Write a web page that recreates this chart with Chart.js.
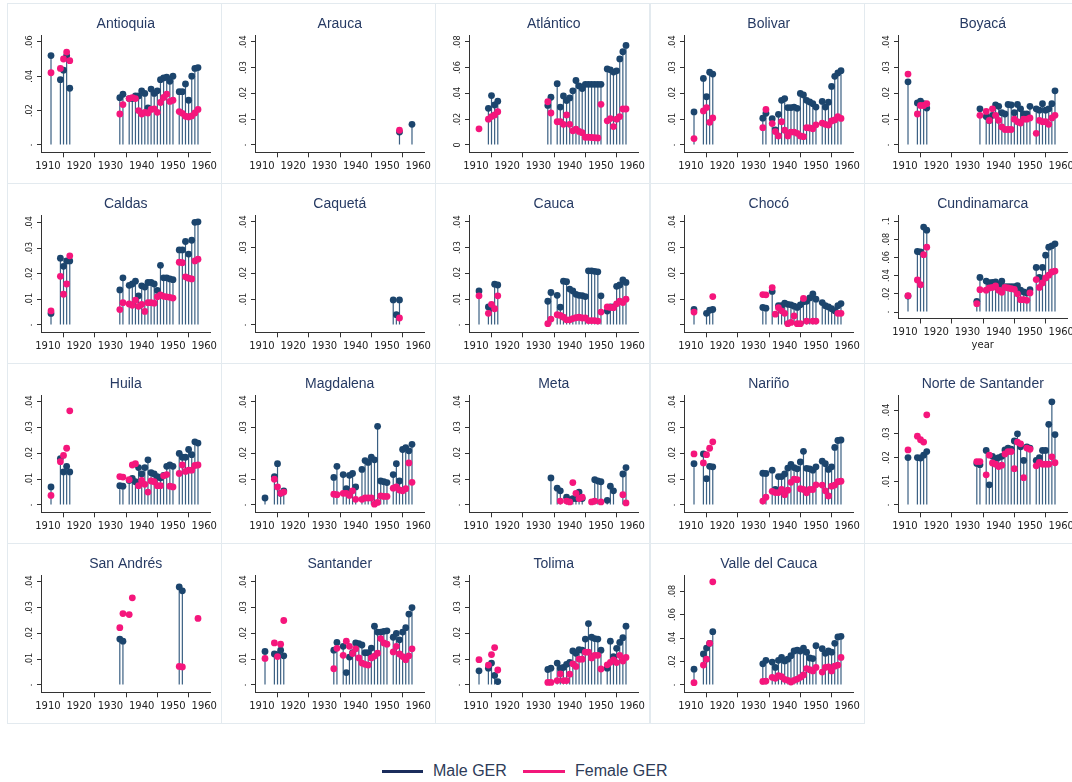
<!DOCTYPE html>
<html>
<head>
<meta charset="utf-8">
<title>GER by department</title>
<script src="https://cdn.jsdelivr.net/npm/chart.js@4.4.1/dist/chart.umd.min.js"></script>
<style>
  html, body { margin: 0; padding: 0; background: #fff; width: 1072px; height: 782px; overflow: hidden; }
  .panel { position: absolute; box-sizing: border-box; border: 1px solid #e3eaef; width: 215px; height: 181px; }
  canvas.plot { position: absolute; }
  .key { position: absolute; top: 760px; font: 16px "Liberation Sans", Arial, sans-serif; color: #2d3b58; line-height: 22px; }
  .key-line { position: absolute; top: 770px; height: 3px; }
</style>
</head>
<body>
<div id="grid"></div>
<div class="key-line" style="left:382px;width:41px;background:#1b2d5c"></div>
<div class="key" style="left:433px">Male GER</div>
<div class="key-line" style="left:523px;width:42px;background:#f2177a"></div>
<div class="key" style="left:575px">Female GER</div>

<script>
// survey years shared by every department (1935 and 1951 missing)
const years = [1911, 1914, 1915, 1916, 1917,
  1933, 1934,
  1936, 1937, 1938, 1939, 1940, 1941, 1942, 1943, 1944, 1945, 1946, 1947, 1948, 1949, 1950,
  1952, 1953, 1954, 1955, 1956, 1957, 1958];
const xTicks = [1910, 1920, 1930, 1940, 1950, 1960];

const ticksSmall = [0, 0.01, 0.02, 0.03, 0.04];
const labelsSmall = ['.', '.01', '.02', '.03', '.04'];
const labelsChoco = ['', '.01', '.02', '.03', '.04'];
const ticksMid = [0, 0.02, 0.04, 0.06];
const labelsMid = ['.', '.02', '.04', '.06'];
const ticksWide = [0, 0.02, 0.04, 0.06, 0.08];
const labelsWide = ['.', '.02', '.04', '.06', '.08'];
const labelsWideZero = ['0', '.02', '.04', '.06', '.08'];
const ticksTop = [0, 0.02, 0.04, 0.06, 0.08, 0.1];
const labelsTop = ['.', '.02', '.04', '.06', '.08', '.1'];

const antioquiaMale = [0.052, 0.038, 0.0435, 0.052, 0.033,
  0.0275, 0.0295,
  0.027, 0.027, 0.0285, 0.0285, 0.0315, 0.030, 0.0215, 0.0325, 0.030, 0.0315, 0.038, 0.039, 0.0395, 0.037, 0.040,
  0.031, 0.031, 0.0355, 0.026, 0.040, 0.0445, 0.045];
const antioquiaFemale = [0.042, 0.0445, 0.050, 0.054, 0.049,
  0.018, 0.0235,
  0.027, 0.0275, 0.027, 0.020, 0.018, 0.019, 0.0186, 0.0207, 0.021, 0.019, 0.0247, 0.0276, 0.0295, 0.0253, 0.026,
  0.0194, 0.0184, 0.0167, 0.0163, 0.0169, 0.0186, 0.0207];

const araucaMale = [null, null, null, null, null,
  null, null,
  null, null, null, null, null, null, null, null, null, null, null, null, null, null, null,
  null, null, 0.005, null, null, null, 0.008];
const araucaFemale = [null, null, null, null, null,
  null, null,
  null, null, null, null, null, null, null, null, null, null, null, null, null, null, null,
  null, null, 0.0057, null, null, null, null];

const atlanticoMale = [null, 0.0284, 0.0383, 0.031, 0.034,
  0.0307, 0.037,
  0.0475, 0.0294, 0.038, 0.0345, 0.0365, 0.042, 0.050, 0.0458, 0.0437, 0.047, 0.047, 0.047, 0.047, 0.047, 0.047,
  0.059, 0.0583, 0.0565, 0.0575, 0.0667, 0.0723, 0.0772];
const atlanticoFemale = [0.0125, 0.020, 0.022, 0.0233, 0.0258,
  0.0335, 0.0248,
  0.018, 0.018, 0.016, 0.0233, 0.016, 0.011, 0.0123, 0.0105, 0.0095, 0.006, 0.006, 0.0058, 0.0056, 0.0054, 0.0315,
  0.0187, 0.0205, 0.0143, 0.020, 0.022, 0.0279, 0.0279];

const bolivarMale = [0.0128, 0.0258, 0.0187, 0.0282, 0.0275,
  0.0104, 0.0123,
  0.0102, 0.0058, 0.0119, 0.0173, 0.018, 0.0145, 0.0145, 0.0147, 0.0142, 0.020, 0.0194, 0.0173, 0.0167, 0.016, 0.0147,
  0.0169, 0.0147, 0.0166, 0.0227, 0.0266, 0.0279, 0.0288];
const bolivarFemale = [0.0025, 0.0132, 0.0145, 0.0088, 0.0105,
  0.0067, 0.0138,
  0.0083, 0.0052, 0.0035, 0.009, 0.0057, 0.0035, 0.005, 0.005, 0.0045, 0.0035, 0.0032, 0.0067, 0.0066, 0.0063, 0.0078,
  0.0085, 0.008, 0.0077, 0.0093, 0.0097, 0.011, 0.0103];

const boyacaMale = [0.0245, 0.0163, 0.017, 0.016, 0.0143,
  null, 0.014,
  0.011, 0.0095, 0.0115, 0.0155, 0.015, 0.0125, 0.012, 0.0157, 0.0155, 0.0125, 0.0157, 0.014, 0.012, 0.012, 0.015,
  0.014, 0.0135, 0.016, 0.0135, 0.014, 0.016, 0.021];
const boyacaFemale = [0.0275, 0.012, 0.0153, 0.0153, 0.016,
  null, 0.0115,
  0.013, 0.0095, 0.014, 0.0115, 0.0095, 0.007, 0.006, 0.006, 0.006, 0.010, 0.009, 0.0085, 0.010, 0.010, 0.0105,
  0.0045, 0.0095, 0.009, 0.009, 0.008, 0.0105, 0.0115];

const caldasMale = [0.0045, 0.0261, 0.0229, 0.025, 0.025,
  0.0137, 0.0184,
  0.0155, 0.016, 0.0171, 0.0114, 0.0153, 0.0148, 0.0166, 0.0166, 0.016, 0.0135, 0.0233, 0.0184, 0.0184, 0.018, 0.0177,
  0.0293, 0.0293, 0.0326, 0.0277, 0.0331, 0.0401, 0.0403];
const caldasFemale = [0.0055, 0.019, 0.012, 0.016, 0.027,
  0.006, 0.0087,
  0.0082, 0.0077, 0.0097, 0.0073, 0.008, 0.0053, 0.0087, 0.0087, 0.0085, 0.011, 0.0117, 0.0112, 0.011, 0.0108, 0.0105,
  0.0245, 0.0243, 0.0188, 0.0183, 0.018, 0.025, 0.0257];

const caquetaMale = [null, null, null, null, null,
  null, null,
  null, null, null, null, null, null, null, null, null, null, null, null, null, null, null,
  0.0097, 0.004, 0.0097, null, null, null, null];
const caquetaFemale = [null, null, null, null, null,
  null, null,
  null, null, null, null, null, null, null, null, null, null, null, null, null, null, null,
  null, null, 0.0027, null, null, null, null];

const caucaMale = [0.0132, 0.007, 0.0067, 0.0158, 0.0155,
  0.0092, 0.0126,
  0.0115, 0.0069, 0.017, 0.0168, 0.0139, 0.0132, 0.0119, 0.0115, 0.0114, 0.011, 0.021, 0.021, 0.0208, 0.0206, 0.0113,
  0.0054, 0.007, 0.007, 0.015, 0.0155, 0.0175, 0.0165];
const caucaFemale = [0.0113, 0.0045, 0.008, 0.0063, 0.0113,
  0.0005, 0.0023,
  0.004, 0.0037, 0.003, 0.002, 0.002, 0.0025, 0.0028, 0.003, 0.0027, 0.0027, 0.0017, 0.0017, 0.0017, 0.0015, 0.005,
  0.007, 0.0068, 0.0067, 0.0082, 0.0092, 0.0087, 0.010];

const chocoMale = [0.006, null, 0.0045, 0.0057, 0.006,
  0.0068, 0.0065,
  0.013, null, 0.0075, 0.0075, 0.0085, 0.008, 0.0078, 0.0073, 0.0068, 0.0078, 0.009, 0.0092, 0.0105, 0.012, 0.010,
  0.0087, 0.0075, 0.007, 0.0063, 0.0055, 0.0075, 0.0083];
const chocoFemale = [0.005, null, null, null, 0.011,
  0.0118, 0.0117,
  0.0145, 0.0042, 0.0067, 0.0055, 0.0045, 0.0005, 0.001, 0.0035, 0.0005, 0.0005, 0.0103, 0.0015, null, 0.0015, 0.0015,
  null, null, null, null, null, 0.0045, 0.0045];

const cundinamarcaMale = [0.0175, 0.0665, 0.066, 0.0934, 0.090,
  0.0118, 0.038,
  0.034, 0.0324, 0.0327, 0.033, 0.030, 0.034, 0.028, 0.028, 0.028, 0.028, 0.029, 0.024, 0.022, 0.021, 0.0246,
  0.049, 0.038, 0.049, 0.0625, 0.0713, 0.0728, 0.075];
const cundinamarcaFemale = [0.018, 0.0353, 0.030, 0.063, 0.0713,
  0.0092, 0.0246,
  0.024, 0.0265, 0.027, 0.0287, 0.024, 0.0217, 0.027, 0.0265, 0.0257, 0.025, 0.020, 0.0136, 0.0136, 0.0129, 0.021,
  0.0357, 0.027, 0.032, 0.0375, 0.0405, 0.044, 0.045];

const huilaMale = [0.007, 0.018, 0.0128, 0.015, 0.0128,
  0.0075, 0.0073,
  0.0095, 0.0103, 0.009, 0.0145, 0.012, 0.0145, 0.0175, 0.0125, 0.012, 0.011, 0.0105, 0.0115, 0.015, 0.0155, 0.015,
  0.020, 0.0185, 0.0185, 0.0215, 0.0195, 0.0245, 0.024];
const huilaFemale = [0.0037, 0.0168, 0.0192, 0.022, 0.0365,
  0.011, 0.0108,
  0.0098, 0.0155, 0.016, 0.0075, 0.0095, 0.008, 0.005, 0.0093, 0.009, 0.0075, 0.0075, 0.0113, 0.0118, 0.0073, 0.007,
  0.0122, 0.0155, 0.013, 0.0135, 0.0135, 0.0153, 0.0155];

const magdalenaMale = [0.0027, 0.011, 0.016, 0.0045, 0.0055,
  0.0107, 0.015,
  0.0118, 0.0063, 0.0115, 0.0122, 0.007, null, 0.0138, 0.0172, 0.0165, 0.0185, 0.0175, 0.0305, 0.0093, 0.009, 0.0087,
  0.0118, 0.016, 0.0093, 0.0215, 0.0222, 0.021, 0.0235];
const magdalenaFemale = [null, 0.010, 0.007, 0.0045, 0.005,
  0.0042, 0.004,
  0.0045, 0.0045, 0.0037, 0.0055, 0.0022, null, 0.0022, 0.0027, 0.0027, 0.0027, 0.0003, 0.001, 0.0035, 0.0033, 0.0033,
  0.0065, 0.007, 0.0058, 0.0055, 0.0063, 0.0163, 0.0088];

const metaMale = [null, null, null, null, null,
  null, 0.0105,
  0.0065, 0.0055, null, 0.003, 0.0018, 0.0025, 0.0025, 0.005, 0.0025, null, null, null, 0.0098, 0.0093, 0.009,
  0.0018, 0.0073, 0.0055, null, null, 0.012, 0.0145];
const metaFemale = [null, null, null, null, null,
  null, null,
  null, 0.0015, null, 0.0015, 0.0012, 0.0087, 0.0045, 0.0025, 0.003, null, null, 0.0012, 0.0015, null, 0.0012,
  null, null, null, null, null, 0.004, 0.0008];

const narinoMale = [0.016, 0.0198, 0.0102, 0.015, 0.0148,
  0.0123, 0.0122,
  0.0135, 0.006, 0.011, 0.011, 0.012, 0.0143, 0.0157, 0.0145, 0.014, 0.0167, 0.0208, 0.0142, 0.014, 0.0135, 0.0148,
  0.017, 0.016, 0.0138, 0.0148, 0.0223, 0.025, 0.0252];
const narinoFemale = [0.0198, 0.0163, 0.0195, 0.022, 0.0245,
  0.0015, 0.003,
  0.0053, 0.0048, 0.0048, 0.006, 0.004, 0.0057, 0.0088, 0.010, 0.0098, 0.0063, 0.006, 0.0047, 0.006, 0.006, 0.0078,
  0.0077, 0.0055, 0.0035, 0.0073, 0.0077, 0.009, 0.0092];

const norteMale = [0.020, 0.020, 0.0198, 0.021, 0.0225,
  0.0175, 0.017,
  0.023, 0.0085, 0.0205, 0.0195, 0.020, 0.0205, 0.0232, 0.024, 0.0235, 0.027, 0.030, 0.0245, 0.0188, 0.0245, 0.024,
  0.0188, 0.020, 0.023, 0.023, 0.034, 0.0435, 0.0297];
const norteFemale = [0.0232, 0.029, 0.0275, 0.0265, 0.038,
  0.0183, 0.0183,
  0.0127, 0.021, 0.0177, 0.0172, 0.0162, 0.0168, 0.0215, 0.0225, 0.0225, 0.0153, 0.0265, 0.0258, 0.0115, 0.024, 0.0235,
  0.0165, 0.018, 0.0172, 0.0172, 0.0172, 0.0203, 0.0178];

const sanAndresMale = [null, null, null, null, null,
  0.0178, 0.017,
  null, null, null, null, null, null, null, null, null, null, null, null, null, null, null,
  0.038, 0.0365, null, null, null, null, null];
const sanAndresFemale = [null, null, null, null, null,
  0.0222, 0.0277,
  0.0273, 0.0338, null, null, null, null, null, null, null, null, null, null, null, null, null,
  0.0072, 0.007, null, null, null, null, 0.0258];

const santanderMale = [0.013, 0.012, 0.0118, 0.0135, 0.0113,
  0.0135, 0.0165,
  0.015, 0.0048, 0.0108, 0.0125, 0.0163, 0.016, 0.0155, 0.0125, 0.0125, 0.0143, 0.0228, 0.0205, 0.0205, 0.0208, 0.021,
  0.0185, 0.020, 0.0175, 0.0205, 0.0222, 0.0275, 0.030];
const santanderFemale = [0.0103, 0.0163, 0.011, 0.0158, 0.025,
  0.0063, 0.0142,
  0.0115, 0.017, 0.015, 0.0122, 0.014, 0.0105, 0.0085, 0.008, 0.0077, 0.0105, 0.0112, 0.0123, 0.018, 0.0163, 0.0158,
  0.0128, 0.015, 0.012, 0.011, 0.0098, 0.0113, 0.014];

const tolimaMale = [0.0055, 0.0065, 0.0085, 0.0037, 0.0013,
  0.006, 0.0065,
  0.0085, 0.0065, 0.0068, 0.008, 0.0088, 0.0132, 0.0123, 0.0137, 0.0135, 0.0178, 0.0238, 0.0185, 0.018, 0.0178, 0.0135,
  0.0065, 0.017, 0.011, 0.0142, 0.0165, 0.0183, 0.0228];
const tolimaFemale = [0.0098, 0.0077, 0.0118, 0.0145, 0.0058,
  0.001, 0.001,
  0.0017, 0.0043, 0.0017, 0.0017, 0.0042, 0.0082, 0.0072, 0.010, 0.010, 0.0127, 0.0127, 0.0105, 0.0115, 0.0115, 0.0062,
  0.0078, 0.0088, 0.0097, 0.0087, 0.0115, 0.0093, 0.0107];

const valleMale = [0.0135, 0.0265, 0.0315, 0.0355, 0.0455,
  0.018, 0.021,
  0.0195, 0.015, 0.021, 0.0235, 0.0205, 0.022, 0.025, 0.029, 0.0298, 0.029, 0.0315, 0.028, 0.023, 0.0225, 0.0335,
  0.031, 0.027, 0.029, 0.028, 0.0355, 0.041, 0.0415];
const valleFemale = [0.002, 0.017, 0.022, 0.0355, 0.088,
  0.003, 0.0033,
  0.0065, 0.0057, 0.008, 0.007, 0.0048, 0.004, 0.0025, 0.004, 0.005, 0.0065, 0.0085, 0.014, 0.013, 0.012, 0.015,
  0.011, 0.015, 0.0155, 0.012, 0.016, 0.017, 0.0235];

const panels = [
  { name: 'Antioquia', male: antioquiaMale, female: antioquiaFemale, ticks: ticksMid, labels: labelsMid },
  { name: 'Arauca', male: araucaMale, female: araucaFemale, ticks: ticksSmall, labels: labelsSmall },
  { name: 'Atlántico', male: atlanticoMale, female: atlanticoFemale, ticks: ticksWide, labels: labelsWideZero },
  { name: 'Bolivar', male: bolivarMale, female: bolivarFemale, ticks: ticksSmall, labels: labelsSmall },
  { name: 'Boyacá', male: boyacaMale, female: boyacaFemale, ticks: ticksSmall, labels: labelsSmall },
  { name: 'Caldas', male: caldasMale, female: caldasFemale, ticks: ticksSmall, labels: labelsSmall },
  { name: 'Caquetá', male: caquetaMale, female: caquetaFemale, ticks: ticksSmall, labels: labelsSmall },
  { name: 'Cauca', male: caucaMale, female: caucaFemale, ticks: ticksSmall, labels: labelsSmall },
  { name: 'Chocó', male: chocoMale, female: chocoFemale, ticks: ticksSmall, labels: labelsChoco },
  { name: 'Cundinamarca', male: cundinamarcaMale, female: cundinamarcaFemale, ticks: ticksTop, labels: labelsTop, xTitle: 'year' },
  { name: 'Huila', male: huilaMale, female: huilaFemale, ticks: ticksSmall, labels: labelsSmall },
  { name: 'Magdalena', male: magdalenaMale, female: magdalenaFemale, ticks: ticksSmall, labels: labelsSmall },
  { name: 'Meta', male: metaMale, female: metaFemale, ticks: ticksSmall, labels: labelsSmall },
  { name: 'Nariño', male: narinoMale, female: narinoFemale, ticks: ticksSmall, labels: labelsSmall },
  { name: 'Norte de Santander', male: norteMale, female: norteFemale, ticks: ticksSmall, labels: labelsSmall },
  { name: 'San Andrés', male: sanAndresMale, female: sanAndresFemale, ticks: ticksSmall, labels: labelsSmall },
  { name: 'Santander', male: santanderMale, female: santanderFemale, ticks: ticksSmall, labels: labelsSmall },
  { name: 'Tolima', male: tolimaMale, female: tolimaFemale, ticks: ticksSmall, labels: labelsSmall },
  { name: 'Valle del Cauca', male: valleMale, female: valleFemale, ticks: ticksWide, labels: labelsWide },
];

const NAVY = '#1c456d';
const STEM = '#3a5f82';
const PINK = '#f5167c';
const INK = '#222';
const colX = [7, 221, 435, 650, 864];
const rowY = [3, 183, 363, 543];
const CW = 218, CH = 178;

function toPoints(arr) {
  return years.map((x, i) => ({ x: x, y: arr[i] })).filter(p => p.y !== null);
}

// rotated y labels (Chart.js only rotates labels on horizontal axes)
function yLabelPlugin(ticks, labels) {
  return {
    id: 'yLabels',
    afterDraw(chart) {
      const { ctx, scales: { y }, chartArea } = chart;
      ctx.save();
      ctx.font = '9px "DejaVu Sans Condensed", "DejaVu Sans", sans-serif';
      ctx.fillStyle = INK;
      ctx.textAlign = 'center';
      ctx.textBaseline = 'middle';
      ticks.forEach((v, i) => {
        ctx.save();
        ctx.translate(chartArea.left - 11.5, y.getPixelForValue(v));
        ctx.rotate(-Math.PI / 2);
        ctx.fillText(labels[i], 0, 0);
        ctx.restore();
      });
      ctx.restore();
    }
  };
}

const grid = document.getElementById('grid');

panels.forEach((p, k) => {
  const c = k % 5, r = Math.floor(k / 5);
  const box = document.createElement('div');
  box.className = 'panel';
  box.style.left = colX[c] + 'px';
  box.style.top = rowY[r] + 'px';
  grid.appendChild(box);

  const canvas = document.createElement('canvas');
  canvas.className = 'plot';
  canvas.width = CW;
  canvas.height = CH;
  canvas.style.left = colX[c] + 'px';
  canvas.style.top = rowY[r] + 'px';
  document.body.appendChild(canvas);

  const topTick = p.ticks[p.ticks.length - 1];
  const dataMax = Math.max(...p.male.concat(p.female).filter(v => v !== null));
  const hi = Math.max(topTick, dataMax);
  const xHeight = p.xTitle ? 42.5 : 28.7;

  new Chart(canvas, {
    type: 'bar',
    data: {
      datasets: [
        { type: 'scatter', label: 'Female GER', data: toPoints(p.female), order: 0,
          pointRadius: 3.4, pointBackgroundColor: PINK, pointBorderWidth: 0 },
        { type: 'scatter', label: 'Male GER', data: toPoints(p.male), order: 1,
          pointRadius: 3.4, pointBackgroundColor: NAVY, pointBorderWidth: 0 },
        { type: 'bar', label: 'stems', data: toPoints(p.male), order: 2,
          backgroundColor: STEM, barThickness: 1.2, inflateAmount: 0, borderWidth: 0 }
      ]
    },
    options: {
      responsive: false,
      animation: false,
      devicePixelRatio: 1,
      events: [],
      layout: { padding: { left: 0, right: 14.5, top: 0, bottom: 0 } },
      plugins: {
        legend: { display: false },
        tooltip: { enabled: false },
        title: {
          display: true,
          text: p.name,
          fullSize: false,
          color: '#263a63',
          font: { family: '"Liberation Sans", Arial, sans-serif', size: 14, weight: 'normal' },
          padding: { top: 12.6, bottom: 2.8 }
        }
      },
      scales: {
        x: {
          type: 'linear',
          min: 1907.8,
          max: 1962,
          offset: false,
          afterBuildTicks: s => { s.ticks = xTicks.map(v => ({ value: v })); },
          afterFit: s => { s.height = xHeight; },
          ticks: { color: INK, padding: 3, maxRotation: 0, autoSkip: false,
            font: { family: '"DejaVu Sans", sans-serif', size: 10 }, callback: v => String(v) },
          grid: { drawOnChartArea: false, drawTicks: true, tickLength: 5, color: '#333' },
          border: { display: true, color: '#333', width: 1 },
          title: p.xTitle ? { display: true, text: p.xTitle, color: INK,
            font: { family: '"DejaVu Sans", sans-serif', size: 10 }, padding: { top: 0, bottom: 9.7 } } : { display: false }
        },
        y: {
          type: 'linear',
          min: -0.071 * hi,
          max: 1.064 * hi,
          afterBuildTicks: s => { s.ticks = p.ticks.map(v => ({ value: v })); },
          afterFit: s => { s.width = 34; },
          ticks: { display: false },
          grid: { drawOnChartArea: false, drawTicks: true, tickLength: 4, color: '#333' },
          border: { display: true, color: '#333', width: 1 }
        }
      }
    },
    plugins: [yLabelPlugin(p.ticks, p.labels)]
  });
});
</script>
</body>
</html>
